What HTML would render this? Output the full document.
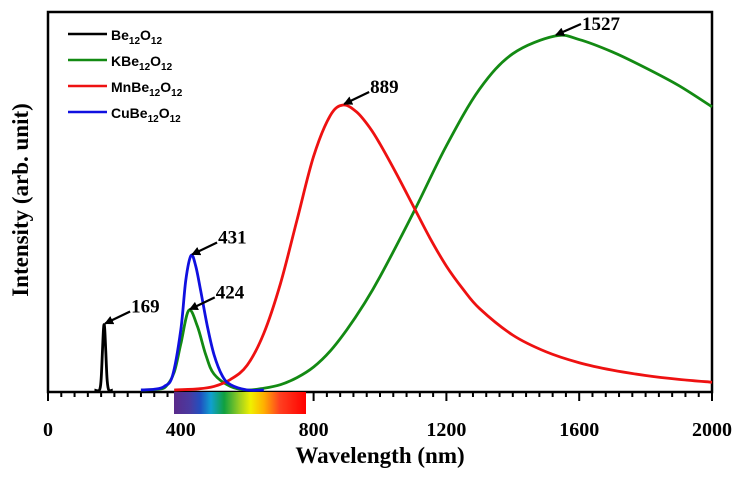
<!DOCTYPE html>
<html><head><meta charset="utf-8"><style>
body{margin:0;background:#fff;}
svg text{font-family:"Liberation Serif",serif;font-weight:bold;}
.lg{font-family:"Liberation Sans",sans-serif;font-weight:bold;font-size:14px;}
</style></head><body>
<svg id="c" width="740" height="474" viewBox="0 0 740 474">
<defs>
<linearGradient id="spec" x1="0" x2="1" y1="0" y2="0">
<stop offset="0" stop-color="#5a2a8a"/><stop offset="0.12" stop-color="#4a3aa0"/><stop offset="0.2" stop-color="#2050c0"/><stop offset="0.28" stop-color="#10a0d0"/><stop offset="0.38" stop-color="#10a040"/><stop offset="0.5" stop-color="#a0d020"/><stop offset="0.58" stop-color="#f0f000"/><stop offset="0.68" stop-color="#ffb000"/><stop offset="0.8" stop-color="#ff4020"/><stop offset="1" stop-color="#ff0000"/>
</linearGradient>
<marker id="ah" markerWidth="9" markerHeight="9" refX="8" refY="4.5" orient="auto" markerUnits="userSpaceOnUse"><path d="M0,0 L9,4.5 L0,9 Z" fill="#000"/></marker>
</defs>
<rect x="48" y="12" width="664" height="380" fill="none" stroke="#000" stroke-width="2.5"/>
<g id="curves"></g>
<g id="axis"></g>
<rect x="174" y="392" width="132" height="22" fill="url(#spec)"/>
<text x="380" y="463" text-anchor="middle" font-size="23">Wavelength (nm)</text>
<text transform="translate(28,200) rotate(-90)" text-anchor="middle" font-size="23">Intensity (arb. unit)</text>
<g>
<line x1="68" y1="34" x2="107" y2="34" stroke="#000" stroke-width="2.5"/><text class="lg" x="111" y="40">Be<tspan font-size="10" dy="4">12</tspan><tspan dy="-4">O</tspan><tspan font-size="10" dy="4">12</tspan></text>
<line x1="68" y1="60" x2="107" y2="60" stroke="#138a13" stroke-width="2.5"/><text class="lg" x="111" y="66">KBe<tspan font-size="10" dy="4">12</tspan><tspan dy="-4">O</tspan><tspan font-size="10" dy="4">12</tspan></text>
<line x1="68" y1="86" x2="107" y2="86" stroke="#ee1111" stroke-width="2.5"/><text class="lg" x="111" y="92">MnBe<tspan font-size="10" dy="4">12</tspan><tspan dy="-4">O</tspan><tspan font-size="10" dy="4">12</tspan></text>
<line x1="68" y1="112" x2="107" y2="112" stroke="#1010e0" stroke-width="2.5"/><text class="lg" x="111" y="118">CuBe<tspan font-size="10" dy="4">12</tspan><tspan dy="-4">O</tspan><tspan font-size="10" dy="4">12</tspan></text>
</g>
<g id="ann"></g>
</svg>
<script>
const blackX=[140,155,160,164,167,169,171,174,178,183,195];
const blackY=[0,0,0.03,0.11,0.17,0.185,0.17,0.11,0.03,0,0];
const blueX=[280,320,350,375,400,415,431,445,460,480,500,525,550,600,650];
const blueY=[0,0.002,0.01,0.04,0.17,0.31,0.38,0.35,0.28,0.18,0.1,0.04,0.015,0,0];
const greenX=[280,330,355,380,400,424,450,475,500,550,600,650,700,750,800,850,900,950,1000,1100,1200,1300,1400,1527,1600,1700,1800,1900,2000];
const greenY=[0,0.002,0.01,0.05,0.13,0.225,0.18,0.1,0.045,0.01,0,0.005,0.015,0.035,0.065,0.11,0.17,0.24,0.32,0.5,0.69,0.85,0.95,1.0,0.99,0.955,0.91,0.86,0.8];
const redX=[380,450,500,550,600,650,700,750,800,850,889,930,970,1000,1050,1100,1150,1200,1250,1300,1400,1500,1600,1700,1800,1900,2000];
const redY=[0,0.003,0.01,0.03,0.07,0.16,0.3,0.48,0.66,0.775,0.805,0.785,0.74,0.695,0.61,0.52,0.43,0.35,0.285,0.23,0.155,0.108,0.077,0.056,0.041,0.03,0.022];
const peakLabels=["169","424","431","889","1527"];
const peakX=[169,424,431,889,1527];
const peakY=[0.185,0.225,0.38,0.805,1.0];
const xTicks=[0,400,800,1200,1600,2000];
const NS="http://www.w3.org/2000/svg";
const X=v=>48+v*664/2000, Y=v=>390-v*354;
function path(xs,ys){
  const p=xs.map((x,i)=>[X(x),Y(ys[i])]);
  let d="M"+p[0][0]+","+p[0][1];
  for(let i=0;i<p.length-1;i++){
    const p0=p[i-1]||p[i],p1=p[i],p2=p[i+1],p3=p[i+2]||p2;
    d+=` C${p1[0]+(p2[0]-p0[0])/6},${p1[1]+(p2[1]-p0[1])/6} ${p2[0]-(p3[0]-p1[0])/6},${p2[1]-(p3[1]-p1[1])/6} ${p2[0]},${p2[1]}`;
  }
  return d;
}
const cg=document.getElementById('curves');
[[greenX,greenY,"#138a13","series-kbe12o12"],[redX,redY,"#ee1111","series-mnbe12o12"],[blueX,blueY,"#1010e0","series-cube12o12"],[blackX,blackY,"#000","series-be12o12"]].forEach(s=>{
  const el=document.createElementNS(NS,'path');
  el.setAttribute('d',path(s[0],s[1]));el.setAttribute('fill','none');el.setAttribute('stroke',s[2]);el.setAttribute('stroke-width','2.8');
  
  
  cg.appendChild(el);
});
const ag=document.getElementById('axis');
for(let v=0;v<=2000;v+=40){
  const major=v%400===0;
  const l=document.createElementNS(NS,'line');
  l.setAttribute('x1',X(v));l.setAttribute('x2',X(v));l.setAttribute('y1',392);l.setAttribute('y2',major?401:397);
  l.setAttribute('stroke','#000');l.setAttribute('stroke-width','2');
  
  
  ag.appendChild(l);
}
xTicks.forEach(v=>{
  const t=document.createElementNS(NS,'text');
  t.setAttribute('x',X(v));t.setAttribute('y',436);t.setAttribute('text-anchor','middle');t.setAttribute('font-size','20');
  t.textContent=v;
  
  
  ag.appendChild(t);
});
const an=document.getElementById('ann');
peakLabels.forEach((lab,i)=>{
  const px=X(peakX[i]),py=Y(peakY[i])-1;
  const dy=Math.min(12,py-24);
  const l=document.createElementNS(NS,'line');
  l.setAttribute('x1',px+26);l.setAttribute('y1',py-dy);l.setAttribute('x2',px+1);l.setAttribute('y2',py);
  l.setAttribute('stroke','#000');l.setAttribute('stroke-width','2.2');l.setAttribute('marker-end','url(#ah)');
  
  
  an.appendChild(l);
  const t=document.createElementNS(NS,'text');
  t.setAttribute('x',px+27);t.setAttribute('y',Math.max(30,py-11));t.setAttribute('font-size','19');
  t.textContent=lab;
  
  
  an.appendChild(t);
});
</script>
</body></html>
